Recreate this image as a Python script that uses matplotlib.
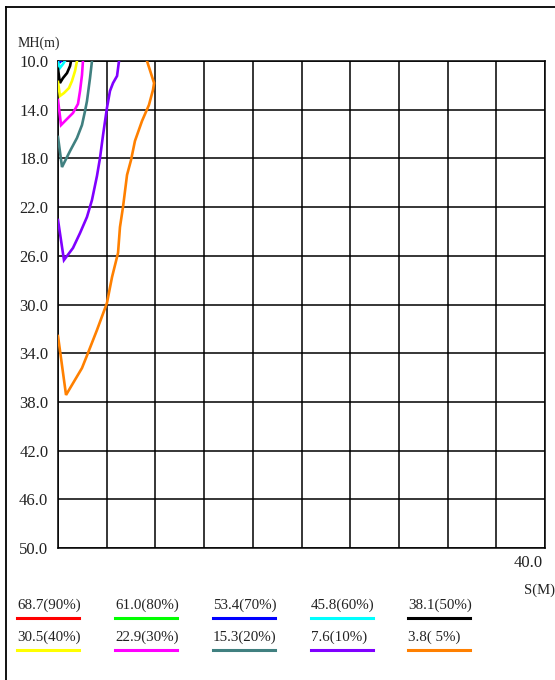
import matplotlib
matplotlib.use("Agg")
import matplotlib.pyplot as plt
from matplotlib.lines import Line2D

plt.rcParams['font.family'] = ['Liberation Serif', 'DejaVu Serif']

# contour levels (value and percent) with their colours
levels = ["68.7(90%)", "61.0(80%)", "53.4(70%)", "45.8(60%)", "38.1(50%)",
          "30.5(40%)", "22.9(30%)", "15.3(20%)", "7.6(10%)", "3.8( 5%)"]
colors = ["#ff0000", "#00ff00", "#0000ff", "#00ffff", "#000000",
          "#ffff00", "#ff00ff", "#408080", "#8000ff", "#ff8000"]

# curves: S (m) and MH (m)
s90, mh90 = [], []
s80, mh80 = [], []
s70 = [0, 0.08, 0.25]
mh70 = [10.0, 10.16, 10.0]
s60 = [0, 0.16, 0.41, 0.57]
mh60 = [10.08, 10.57, 10.25, 10.0]
s50 = [0, 0.16, 0.41, 0.74, 0.99, 1.07]
mh50 = [10.66, 11.81, 11.40, 10.99, 10.41, 10.0]
s40 = [0, 0.16, 0.49, 0.90, 1.15, 1.40, 1.56]
mh40 = [11.72, 12.87, 12.63, 12.22, 11.64, 10.82, 10.0]
s30 = [0, 0.25, 0.82, 1.23, 1.64, 1.81, 1.97, 2.05]
mh30 = [13.20, 15.26, 14.68, 14.27, 13.53, 12.46, 11.15, 10.0]
s20 = [0, 0.33, 0.99, 1.56, 1.97, 2.22, 2.38, 2.63, 2.79]
mh20 = [16.24, 18.71, 17.39, 16.32, 15.26, 14.11, 13.29, 11.40, 10.0]
s10 = [0, 0.49, 1.23, 1.81, 2.38, 2.79, 3.20, 3.45, 3.70, 4.02, 4.27, 4.52, 4.85, 5.01]
mh10 = [23.06, 26.35, 25.36, 24.13, 22.81, 21.42, 19.45, 17.97, 16.08, 13.86,
        12.46, 11.81, 11.23, 10.0]
s5 = [0, 0.66, 1.97, 2.46, 3.20, 4.02, 4.44, 4.93, 5.09, 5.34, 5.67, 6.00,
      6.32, 6.90, 7.47, 7.80, 7.89, 7.31]
mh5 = [32.59, 37.43, 35.22, 33.99, 32.10, 29.88, 27.74, 25.77, 23.64, 21.99,
       19.36, 18.13, 16.57, 14.93, 13.61, 12.38, 11.81, 10.0]

curves = [(s90, mh90), (s80, mh80), (s70, mh70), (s60, mh60), (s50, mh50),
          (s40, mh40), (s30, mh30), (s20, mh20), (s10, mh10), (s5, mh5)]

yticks = [10, 14, 18, 22, 26, 30, 34, 38, 42, 46, 50]
xgrid = [0, 4, 8, 12, 16, 20, 24, 28, 32, 36, 40]

fig = plt.figure(figsize=(5.55, 6.8), dpi=100)
ax = fig.add_axes([0.1045, 0.1941, 0.8775, 0.7162])

for (s, mh), c in zip(curves, colors):
    if s:
        ax.plot(s, mh, color=c, lw=1.9, solid_joinstyle='miter', zorder=3)

ax.set_xlim(0, 40)
ax.set_ylim(50, 10)
ax.set_xticks(xgrid)
ax.set_xticklabels([])
ax.set_yticks(yticks)
ax.set_yticklabels(["%.1f" % v for v in yticks], fontsize=12, color='#222222')
ax.tick_params(length=0, pad=7)
ax.grid(True, color='black', lw=1.1)
for sp in ax.spines.values():
    sp.set_linewidth(1.1)

fig.text(543 / 555, 1 - 563 / 680, "40.0", ha='right', va='center', fontsize=12, color='#222222')
fig.text(555 / 555, 1 - 590 / 680, "S(M)", ha='right', va='center', fontsize=10.5, color='#222222')
fig.text(18 / 555, 1 - 43 / 680, "MH(m)", ha='left', va='center', fontsize=10, color='#222222')

# outer frame (top and left only)
fig.add_artist(Line2D([6 / 555, 1], [1 - 7 / 680, 1 - 7 / 680], color='black', lw=1.3))
fig.add_artist(Line2D([6 / 555, 6 / 555], [0, 1 - 7 / 680], color='black', lw=1.3))

# legend
col_x = [17, 115, 213, 311, 408]
row_y = [605, 637]
for i, (lab, c) in enumerate(zip(levels, colors)):
    x0 = col_x[i % 5]
    y0 = row_y[i // 5]
    fig.text(x0 / 555, 1 - y0 / 680, lab, ha='left', va='center', fontsize=10.8, color='#222222')
    fig.add_artist(Line2D([x0 / 555, (x0 + 62) / 555],
                          [1 - (y0 + 13) / 680, 1 - (y0 + 13) / 680], color=c, lw=2.2))

fig.savefig("out.png", dpi=100)
